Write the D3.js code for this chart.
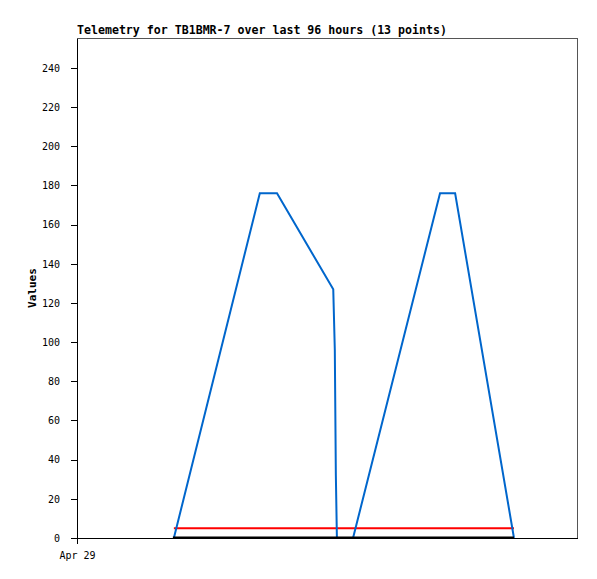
<!DOCTYPE html>
<html>
<head>
<meta charset="utf-8">
<script src="https://cdn.jsdelivr.net/npm/d3@7"></script>
<style>
  body { margin: 0; background: #fff; }
  text { font-family: "DejaVu Sans Mono", monospace; }
</style>
</head>
<body>
<div id="chart"></div>
<script>
// data: hours since Apr 29 00:00 UTC, and values
const hours = [18.6, 35.1, 38.4, 49.2, 49.5, 49.7, 49.9, 53.0, 69.7, 72.6, 83.9];
const values = [0, 176, 176, 127, 96, 32, 0, 0, 176, 176, 0];
const redLevel = 5;
const blackLevel = 0;
const yTicks = [0, 20, 40, 60, 80, 100, 120, 140, 160, 180, 200, 220, 240];
const startTime = Date.UTC(2024, 3, 29);
const spanHours = 96;
const titleText = "Telemetry for TB1BMR-7 over last 96 hours (13 points)";

const W = 597, H = 579;
const margin = { top: 38, right: 20, bottom: 41, left: 77 };
const width = W - margin.left - margin.right,
      height = H - margin.top - margin.bottom;

const svg = d3.select("#chart").append("svg")
    .attr("width", W).attr("height", H);
const g = svg.append("g")
    .attr("transform", `translate(${margin.left},${margin.top})`);

const x = d3.scaleUtc()
    .domain([new Date(startTime), new Date(startTime + spanHours * 3600e3)])
    .range([0, width]);
const y = d3.scaleLinear().domain([0, 255.3]).range([height, 0]);

const pts = hours.map((h, i) => ({ t: new Date(startTime + h * 3600e3), v: values[i] }));

// frame
g.append("rect")
    .attr("x", 0.5).attr("y", 0.5)
    .attr("width", width).attr("height", height)
    .attr("fill", "none").attr("stroke", "#555")
    .attr("shape-rendering", "crispEdges");

// y axis
const yAxis = g.append("g")
    .call(d3.axisLeft(y).tickValues(yTicks).tickSize(6).tickSizeOuter(0))
    .attr("shape-rendering", "crispEdges");
yAxis.selectAll("line, .domain").attr("stroke", "#000");
yAxis.selectAll("text").style("font-size", "10px").attr("x", -17).attr("fill", "#000");

// series
const first = pts[0].t, last = pts[pts.length - 1].t;
g.append("line")
    .attr("x1", x(first)).attr("x2", x(last))
    .attr("y1", y(redLevel)).attr("y2", y(redLevel))
    .attr("stroke", "#ff0000").attr("stroke-width", 2);

g.append("path")
    .datum(pts)
    .attr("d", d3.line().x(d => x(d.t)).y(d => y(d.v)))
    .attr("fill", "none")
    .attr("stroke", "#0066cc")
    .attr("stroke-width", 2);

g.append("line")
    .attr("x1", x(first) - 1).attr("x2", x(last))
    .attr("y1", y(blackLevel) - 0.5).attr("y2", y(blackLevel) - 0.5)
    .attr("stroke", "#000").attr("stroke-width", 2);

// x axis on top of the series
const xAxis = g.append("g")
    .attr("transform", `translate(0,${height})`)
    .call(d3.axisBottom(x).tickValues([new Date(startTime)]).tickSize(6).tickSizeOuter(0)
        .tickFormat(d3.utcFormat("%b %d")))
    .attr("shape-rendering", "crispEdges");
xAxis.selectAll("line, .domain").attr("stroke", "#000");
xAxis.selectAll("text").style("font-size", "10px").attr("y", 14).attr("fill", "#000");

// labels
svg.append("text")
    .attr("x", margin.left).attr("y", 34)
    .style("font-size", "11.6px").style("font-weight", "bold")
    .text(titleText);

svg.append("text")
    .attr("transform", `translate(36,${margin.top + height / 2}) rotate(-90)`)
    .attr("text-anchor", "middle")
    .style("font-size", "11px").style("font-weight", "bold")
    .text("Values");
</script>
</body>
</html>
